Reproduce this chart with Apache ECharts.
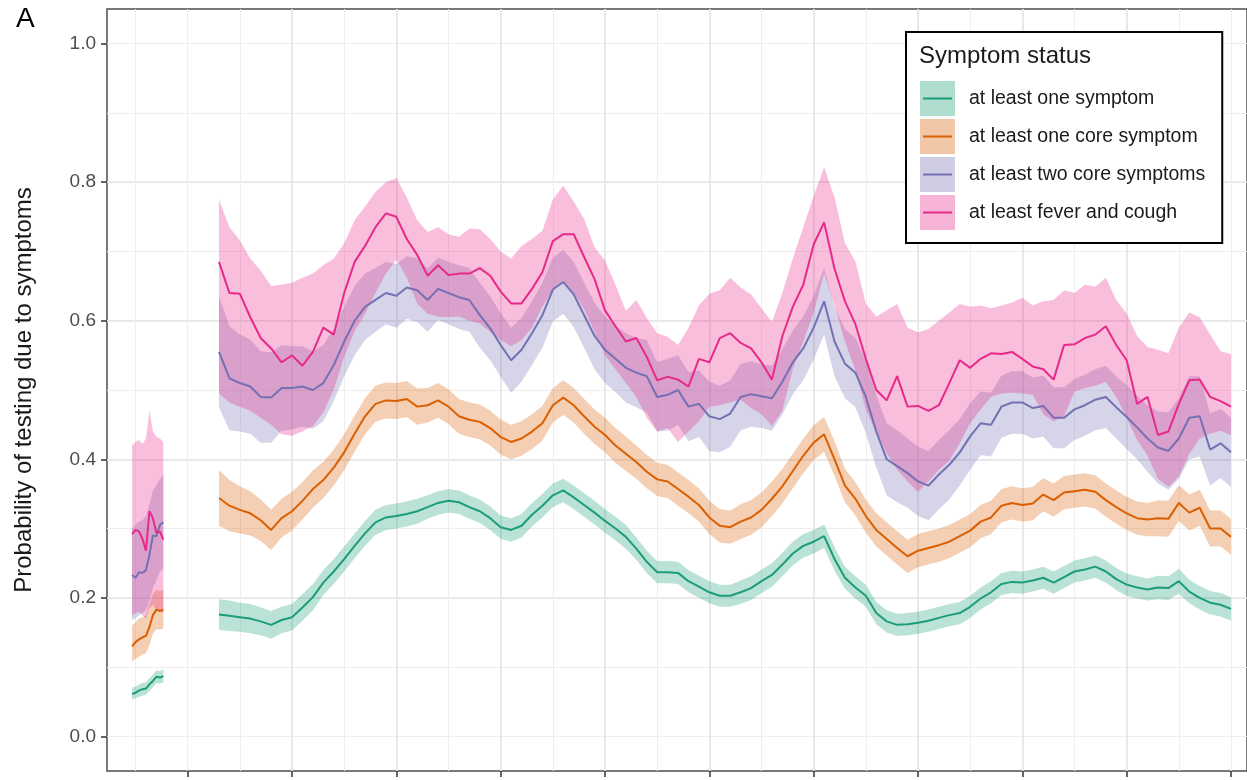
<!DOCTYPE html>
<html>
<head>
<meta charset="utf-8">
<script src="https://cdn.jsdelivr.net/npm/echarts@6/dist/echarts.min.js"></script>
<style>
  html, body { margin: 0; padding: 0; background: #ffffff; }
  #chart { width: 1247px; height: 780px; }
</style>
</head>
<body>
<div id="chart"></div>
<script>
// Day index of each estimate (two observation periods with a gap between them)
const days = [
  -16, -15, -14, -13, -12, -11, -10, -9, -8, -7,
  9, 12, 15, 18, 21, 24, 27, 30, 33, 36,
  39, 42, 45, 48, 51, 54, 57, 60, 63, 66,
  69, 72, 75, 78, 81, 84, 87, 90, 93, 96,
  99, 102, 105, 108, 111, 114, 117, 120, 123, 126,
  129, 132, 135, 138, 141, 144, 147, 150, 153, 156,
  159, 162, 165, 168, 171, 174, 177, 180, 183, 186,
  189, 192, 195, 198, 201, 204, 207, 210, 213, 216,
  219, 222, 225, 228, 231, 234, 237, 240, 243, 246,
  249, 252, 255, 258, 261, 264, 267, 270, 273, 276,
  279, 282, 285, 288, 291, 294, 297, 300
];

// at least one symptom
const oneSym = [
  .061, .063, .066, .068, .069, .075, .080, .086, .085, .087,
  .176, .174, .172, .170, .166, .161, .168, .172, .186, .201,
  .222, .238, .256, .275, .293, .309, .316, .318, .321, .325,
  .331, .337, .340, .338, .331, .325, .315, .302, .298, .304,
  .320, .333, .348, .355, .345, .334, .323, .311, .300, .288,
  .271, .252, .237, .237, .236, .224, .216, .208, .203, .203,
  .208, .214, .224, .233, .248, .264, .275, .281, .289, .256,
  .229, .215, .203, .178, .166, .161, .162, .164, .167, .171,
  .175, .178, .187, .199, .208, .220, .223, .222, .225, .229,
  .222, .230, .238, .241, .245, .238, .227, .219, .215, .212,
  .215, .214, .224, .209, .200, .193, .190, .184
];
const oneSymLo = [
  .053, .055, .057, .059, .060, .066, .071, .077, .076, .078,
  .154, .152, .151, .149, .146, .141, .149, .153, .167, .182,
  .204, .220, .238, .257, .275, .291, .298, .300, .303, .307,
  .314, .320, .323, .321, .314, .308, .298, .285, .281, .287,
  .303, .316, .331, .338, .328, .317, .306, .294, .283, .271,
  .255, .236, .221, .221, .220, .208, .200, .192, .187, .187,
  .191, .197, .207, .216, .231, .247, .258, .264, .272, .239,
  .213, .199, .187, .162, .150, .145, .146, .148, .151, .155,
  .159, .162, .171, .183, .192, .204, .207, .206, .209, .213,
  .206, .214, .222, .225, .229, .222, .211, .203, .199, .196,
  .198, .197, .206, .192, .183, .176, .173, .167
];
const oneSymHi = [
  .070, .072, .075, .077, .078, .084, .089, .095, .094, .097,
  .198, .196, .193, .191, .186, .181, .187, .191, .205, .220,
  .240, .256, .274, .293, .311, .327, .334, .336, .339, .343,
  .348, .354, .357, .355, .348, .342, .332, .319, .315, .321,
  .337, .350, .365, .372, .362, .351, .340, .328, .317, .305,
  .287, .268, .253, .253, .252, .240, .232, .224, .219, .219,
  .225, .231, .241, .250, .265, .281, .292, .298, .306, .273,
  .245, .231, .219, .194, .182, .177, .178, .180, .183, .187,
  .191, .194, .203, .215, .224, .236, .239, .238, .241, .245,
  .238, .246, .254, .257, .261, .254, .243, .235, .231, .228,
  .232, .231, .242, .226, .217, .210, .207, .201
];

// at least one core symptom
const oneCore = [
  .130, .136, .140, .143, .145, .158, .175, .183, .181, .183,
  .344, .333, .327, .322, .312, .298, .315, .325, .340, .357,
  .370, .388, .410, .437, .462, .480, .485, .484, .487, .476,
  .478, .485, .476, .462, .457, .454, .445, .432, .425, .430,
  .440, .452, .478, .489, .478, .462, .447, .435, .420, .408,
  .396, .382, .371, .368, .357, .346, .334, .316, .304, .302,
  .310, .316, .327, .343, .361, .383, .405, .424, .436, .400,
  .362, .343, .318, .298, .285, .272, .260, .268, .272, .276,
  .281, .289, .297, .310, .316, .333, .337, .334, .336, .349,
  .341, .352, .354, .356, .353, .341, .331, .322, .315, .313,
  .315, .314, .337, .323, .330, .300, .300, .288
];
const oneCoreLo = [
  .108, .112, .115, .118, .120, .132, .148, .155, .154, .156,
  .304, .296, .293, .290, .282, .269, .287, .297, .313, .330,
  .344, .362, .384, .411, .436, .454, .459, .458, .461, .450,
  .453, .460, .451, .437, .432, .429, .420, .407, .400, .405,
  .415, .427, .453, .464, .453, .437, .422, .410, .395, .383,
  .372, .358, .347, .344, .333, .322, .310, .292, .280, .278,
  .285, .291, .302, .318, .336, .358, .380, .399, .411, .376,
  .338, .319, .294, .274, .261, .248, .236, .244, .248, .252,
  .257, .265, .273, .286, .292, .309, .313, .310, .312, .325,
  .317, .328, .330, .332, .329, .317, .307, .298, .291, .289,
  .289, .288, .311, .297, .304, .274, .274, .262
];
const oneCoreHi = [
  .160, .165, .170, .172, .175, .190, .205, .212, .210, .212,
  .384, .370, .361, .354, .342, .327, .343, .353, .367, .384,
  .396, .414, .436, .463, .488, .506, .511, .510, .513, .502,
  .503, .510, .501, .487, .482, .479, .470, .457, .450, .455,
  .465, .477, .503, .514, .503, .487, .472, .460, .445, .433,
  .420, .406, .395, .392, .381, .370, .358, .340, .328, .326,
  .335, .341, .352, .368, .386, .408, .430, .449, .461, .426,
  .386, .367, .342, .322, .309, .296, .284, .292, .296, .300,
  .305, .313, .321, .334, .340, .357, .361, .358, .360, .373,
  .365, .376, .378, .380, .377, .365, .355, .346, .339, .337,
  .341, .340, .363, .349, .356, .326, .326, .314
];

// at least two core symptoms
const twoCore = [
  .233, .229, .237, .236, .240, .262, .290, .289, .305, .309,
  .555, .517, .510, .505, .490, .489, .503, .503, .505, .500,
  .510, .536, .570, .600, .620, .630, .640, .636, .648, .644,
  .630, .646, .640, .634, .630, .608, .589, .565, .543, .558,
  .582, .608, .645, .656, .638, .608, .578, .558, .545, .532,
  .525, .520, .490, .493, .500, .476, .480, .462, .458, .466,
  .490, .494, .491, .488, .512, .540, .560, .590, .628, .570,
  .538, .525, .490, .440, .400, .390, .380, .368, .362, .378,
  .392, .410, .433, .452, .450, .476, .482, .482, .474, .477,
  .460, .460, .472, .478, .486, .490, .475, .461, .446, .430,
  .417, .412, .430, .460, .462, .414, .423, .410
];
const twoCoreLo = [
  .168, .170, .175, .178, .182, .195, .215, .225, .238, .242,
  .475, .442, .440, .437, .424, .424, .441, .443, .447, .444,
  .455, .484, .520, .550, .572, .584, .595, .590, .603, .598,
  .584, .601, .595, .588, .584, .561, .543, .519, .496, .512,
  .536, .561, .599, .610, .591, .561, .530, .510, .497, .482,
  .475, .468, .440, .441, .450, .426, .432, .412, .410, .418,
  .442, .447, .445, .441, .465, .494, .514, .544, .580, .520,
  .488, .475, .438, .388, .348, .338, .330, .318, .312, .328,
  .342, .362, .385, .406, .404, .431, .437, .437, .430, .433,
  .416, .416, .428, .434, .442, .445, .430, .415, .400, .382,
  .365, .356, .372, .400, .404, .362, .373, .360
];
const twoCoreHi = [
  .300, .305, .310, .312, .318, .335, .355, .362, .372, .378,
  .635, .592, .580, .573, .556, .554, .565, .563, .563, .556,
  .565, .588, .620, .650, .668, .676, .685, .682, .693, .690,
  .676, .691, .685, .680, .676, .655, .635, .611, .590, .604,
  .628, .655, .691, .702, .685, .655, .626, .606, .593, .582,
  .575, .572, .540, .545, .550, .526, .528, .512, .506, .514,
  .538, .541, .537, .535, .559, .586, .606, .636, .676, .620,
  .588, .575, .542, .492, .452, .442, .430, .418, .412, .428,
  .442, .458, .481, .498, .496, .521, .527, .527, .518, .521,
  .504, .504, .516, .522, .530, .535, .520, .507, .492, .478,
  .469, .468, .488, .520, .520, .466, .473, .460
];

// at least fever and cough
const feverCough = [
  .292, .298, .296, .285, .268, .325, .315, .294, .296, .284,
  .685, .640, .639, .605, .575, .560, .540, .550, .535, .555,
  .590, .580, .640, .685, .708, .735, .755, .750, .718, .695,
  .665, .680, .666, .668, .668, .676, .665, .642, .625, .625,
  .646, .670, .715, .725, .725, .692, .660, .615, .592, .570,
  .575, .548, .514, .519, .515, .505, .545, .540, .575, .582,
  .568, .560, .540, .515, .578, .620, .652, .710, .742, .675,
  .628, .595, .545, .500, .485, .520, .476, .477, .470, .478,
  .510, .543, .532, .545, .553, .552, .555, .545, .534, .530,
  .515, .565, .566, .575, .580, .592, .565, .543, .480, .490,
  .435, .440, .480, .514, .515, .490, .484, .476
];
const feverCoughLo = [
  .175, .178, .180, .175, .170, .185, .190, .182, .180, .178,
  .495, .482, .476, .470, .460, .450, .436, .434, .440, .448,
  .468, .500, .548, .585, .610, .640, .668, .688, .662, .625,
  .610, .606, .605, .606, .600, .596, .584, .572, .563, .572,
  .590, .620, .645, .658, .640, .617, .584, .550, .530, .510,
  .490, .460, .440, .445, .425, .440, .455, .476, .478, .482,
  .486, .474, .465, .448, .470, .530, .570, .612, .668, .622,
  .570, .528, .472, .438, .409, .385, .368, .353, .368, .385,
  .398, .423, .452, .472, .490, .495, .496, .495, .493, .465,
  .455, .462, .498, .503, .506, .512, .490, .460, .428, .405,
  .372, .360, .375, .408, .430, .437, .441, .435
];
const feverCoughHi = [
  .420, .425, .428, .422, .430, .470, .440, .432, .430, .425,
  .775, .735, .716, .690, .672, .650, .652, .655, .662, .668,
  .680, .690, .712, .745, .765, .786, .800, .806, .778, .745,
  .728, .735, .725, .721, .733, .732, .718, .700, .690, .708,
  .718, .730, .775, .795, .772, .747, .706, .687, .652, .614,
  .630, .604, .582, .577, .565, .590, .622, .639, .644, .662,
  .648, .638, .618, .598, .640, .690, .735, .780, .822, .778,
  .712, .686, .625, .606, .615, .624, .590, .583, .588, .600,
  .612, .624, .620, .622, .618, .622, .626, .633, .622, .628,
  .630, .644, .640, .652, .649, .662, .630, .610, .578, .562,
  .558, .553, .590, .612, .605, .580, .556, .552
];

const names = [
  'at least one symptom',
  'at least one core symptom',
  'at least two core symptoms',
  'at least fever and cough'
];
const colors = ['#1b9e77', '#d95f02', '#7570b3', '#e7298a'];
const yTicks = [0, 0.2, 0.4, 0.6, 0.8, 1.0];
const xTicks = [0, 30, 60, 90, 120, 150, 180, 210, 240, 270, 300];

const FONT = '"Liberation Sans", Arial, Helvetica, sans-serif';

function rgba(hex, a) {
  const n = parseInt(hex.slice(1), 16);
  return 'rgba(' + ((n >> 16) & 255) + ',' + ((n >> 8) & 255) + ',' + (n & 255) + ',' + a + ')';
}

// split the day index into contiguous runs (a jump bigger than the sampling step is a gap)
const segments = [];
(function () {
  let start = 0;
  for (let i = 1; i <= days.length; i++) {
    if (i === days.length || days[i] - days[i - 1] > 3) {
      segments.push([start, i - 1]);
      start = i;
    }
  }
})();

function lineData(vals) {
  const out = [];
  for (let i = 0; i < days.length; i++) {
    if (i > 0 && days[i] - days[i - 1] > 3) out.push([(days[i] + days[i - 1]) / 2, null]);
    out.push([days[i], vals[i]]);
  }
  return out;
}

function bandSeries(lo, hi, color, id) {
  return {
    id: id,
    type: 'custom',
    coordinateSystem: 'cartesian2d',
    silent: true,
    data: segments.map(s => [days[s[0]], lo[s[0]]]),
    encode: { x: 0, y: 1 },
    renderItem: function (params, api) {
      const seg = segments[params.dataIndex];
      const pts = [];
      for (let i = seg[0]; i <= seg[1]; i++) pts.push(api.coord([days[i], hi[i]]));
      for (let i = seg[1]; i >= seg[0]; i--) pts.push(api.coord([days[i], lo[i]]));
      return { type: 'polygon', shape: { points: pts }, style: { fill: rgba(color, 0.3) } };
    }
  };
}

function lineSeries(vals, i) {
  return {
    name: names[i],
    type: 'line',
    data: lineData(vals),
    showSymbol: false,
    symbol: 'none',
    connectNulls: false,
    silent: true,
    lineStyle: { color: colors[i], width: 2 },
    itemStyle: { color: colors[i] }
  };
}

const lows = [oneSymLo, oneCoreLo, twoCoreLo, feverCoughLo];
const highs = [oneSymHi, oneCoreHi, twoCoreHi, feverCoughHi];
const mids = [oneSym, oneCore, twoCore, feverCough];

const series = [];
for (let i = 0; i < 4; i++) series.push(bandSeries(lows[i], highs[i], colors[i], 'band' + i));
for (let i = 0; i < 4; i++) series.push(lineSeries(mids[i], i));

// legend key line: a thin bar inside a 35x35 box (corner dots fix the icon's bounds)
const LINE_ICON = 'path://M0,0h0.01v0.01h-0.01z M35,35h-0.01v-0.01h0.01z M3,16.5h29v2h-29z';

const legendBase = {
  orient: 'vertical',
  left: 906,
  top: 32,
  itemWidth: 35,
  itemHeight: 35,
  itemGap: 3,
  padding: [49, 17, 13, 14],
  selectedMode: false,
  itemStyle: { borderWidth: 0 }
};

const X_MIN = -23.2, X_MAX = 304.6;
const BORDER = '#4d4d4d';

const option = {
  animation: false,
  backgroundColor: '#ffffff',
  textStyle: { fontFamily: FONT },
  title: [
    { text: 'A', left: 16, top: 5, padding: 0,
      textStyle: { fontSize: 28, fontWeight: 'normal', color: '#000', fontFamily: FONT } },
    { text: 'Symptom status', left: 919, top: 44, padding: 0, z: 8,
      textStyle: { fontSize: 24, fontWeight: 'normal', color: '#1a1a1a', fontFamily: FONT } }
  ],
  grid: {
    left: 107, top: 9, right: -6, bottom: 9,
    show: true, borderColor: BORDER, borderWidth: 1.5, backgroundColor: '#ffffff'
  },
  xAxis: [
    {
      type: 'value', min: X_MIN, max: X_MAX, minInterval: 15, maxInterval: 15, splitNumber: 22,
      axisLine: { show: false, onZero: false }, axisTick: { show: false }, axisLabel: { show: false },
      splitLine: { show: true, showMinLine: false, showMaxLine: false, lineStyle: { color: '#eeeeee', width: 1 } }
    },
    {
      type: 'value', min: X_MIN, max: X_MAX, minInterval: 30, maxInterval: 30, splitNumber: 11,
      position: 'bottom',
      axisLine: { show: false, onZero: false },
      axisTick: { show: true, length: 6, customValues: xTicks, lineStyle: { color: '#333333', width: 1.5 } },
      axisLabel: { show: false },
      splitLine: { show: true, showMinLine: false, showMaxLine: false, lineStyle: { color: '#e5e5e5', width: 1.6 } }
    }
  ],
  yAxis: [
    {
      type: 'value', min: -0.05, max: 1.05, minInterval: 0.1, maxInterval: 0.1, splitNumber: 11,
      axisLine: { show: false, onZero: false }, axisTick: { show: false }, axisLabel: { show: false },
      splitLine: { show: true, showMinLine: false, showMaxLine: false, lineStyle: { color: '#eeeeee', width: 1 } }
    },
    {
      type: 'value', min: -0.05, max: 1.05, minInterval: 0.2, maxInterval: 0.2, splitNumber: 5,
      position: 'left',
      axisLine: { show: false, onZero: false },
      axisTick: { show: true, length: 6, customValues: yTicks, lineStyle: { color: '#333333', width: 1.5 } },
      axisLabel: {
        customValues: yTicks, margin: 11, fontSize: 19, color: '#4d4d4d', fontFamily: FONT,
        formatter: v => Number(v).toFixed(1)
      },
      splitLine: { show: true, showMinLine: false, showMaxLine: false, lineStyle: { color: '#e5e5e5', width: 1.6 } },
      name: 'Probability of testing due to symptoms',
      nameLocation: 'middle',
      nameGap: 71,
      nameTextStyle: { fontSize: 24, color: '#1a1a1a', fontFamily: FONT }
    }
  ],
  legend: [
    Object.assign({}, legendBase, {
      z: 6,
      backgroundColor: '#ffffff',
      borderColor: '#000000',
      borderWidth: 2,
      borderRadius: 0,
      data: names.map((n, i) => ({ name: n, icon: 'rect', itemStyle: { color: rgba(colors[i], 0.35), borderWidth: 0 } })),
      textStyle: { fontSize: 19.5, color: '#1a1a1a', fontFamily: FONT, padding: [0, 0, 0, 9] }
    }),
    Object.assign({}, legendBase, {
      z: 7,
      backgroundColor: 'transparent',
      borderWidth: 0,
      data: names.map((n, i) => ({ name: n, icon: LINE_ICON, itemStyle: { color: colors[i], borderWidth: 0 } })),
      textStyle: { fontSize: 19.5, color: 'rgba(0,0,0,0)', fontFamily: FONT, padding: [0, 0, 0, 9] }
    })
  ],
  series: series
};

const chart = echarts.init(document.getElementById('chart'), null, { renderer: 'canvas' });
chart.setOption(option);
</script>
</body>
</html>
